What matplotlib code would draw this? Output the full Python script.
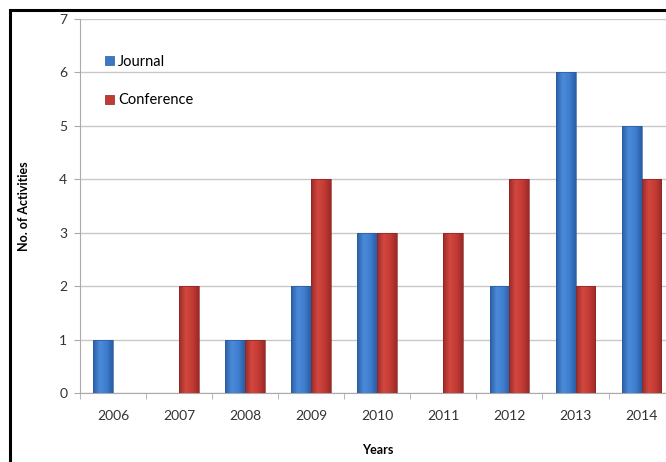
import numpy as np
import matplotlib
matplotlib.use("Agg")
import matplotlib.pyplot as plt
from matplotlib.colors import LinearSegmentedColormap
from matplotlib.patches import Rectangle

plt.rcParams['font.family'] = ['Lato', 'DejaVu Sans']

years = ['2006', '2007', '2008', '2009', '2010', '2011', '2012', '2013', '2014']
journal = [1, 0, 1, 2, 3, 0, 2, 6, 5]
conference = [0, 2, 1, 4, 3, 3, 4, 2, 4]

blue = '#3b78c8'
red = '#c23a35'
blue_map = LinearSegmentedColormap.from_list('b', ['#2a5ea6', '#4b8ad8', '#3f7fd0', '#2a5ea6'])
red_map = LinearSegmentedColormap.from_list('r', ['#9a2a27', '#d2473f', '#c43b35', '#9a2a27'])


# shade each bar with a left-to-right gradient
def shade_bars(ax, bars, cmap):
    grad = np.linspace(0, 1, 64).reshape(1, -1)
    for b in bars:
        h = b.get_height()
        if h <= 0:
            continue
        x0, w = b.get_x(), b.get_width()
        im = ax.imshow(grad, cmap=cmap, aspect='auto', extent=(x0, x0 + w, 0, h),
                       zorder=3, interpolation='bicubic')
        im.set_clip_path(b)
        b.set_facecolor('none')


fig = plt.figure(figsize=(6.66, 4.62), dpi=100)
ax = fig.add_axes([0.120, 0.149, 0.893, 0.81])

x = np.arange(len(years))
w = 0.3
jb = ax.bar(x - w / 2, journal, w, color=blue, edgecolor='#2a5a9c', linewidth=0.5,
            label='Journal', zorder=4)
cb = ax.bar(x + w / 2, conference, w, color=red, edgecolor='#8e2522', linewidth=0.5,
            label='Conference', zorder=4)

ax.set_xlim(-0.5, len(years) - 0.5)
ax.set_ylim(0, 7)
ax.set_yticks(range(8))
ax.set_xticks(x)
ax.set_xticklabels(years)
ax.set_xticks(np.arange(len(years)) - 0.5, minor=True)
ax.tick_params(axis='x', which='major', length=0, pad=12, labelsize=10, colors='#333333')
ax.tick_params(axis='x', which='minor', length=4, color='#aaaaaa', direction='out')
ax.tick_params(axis='y', length=4, color='#aaaaaa', labelsize=10, colors='#333333', pad=5)
ax.grid(axis='y', color='#c8c8c8', linewidth=1, zorder=0)

for side in ['top', 'right']:
    ax.spines[side].set_visible(False)
for side in ['left', 'bottom']:
    ax.spines[side].set_color('#aaaaaa')

ax.set_ylabel('No. of Activities', fontsize=9, fontweight='bold', labelpad=21)
ax.set_xlabel('Years', fontsize=9, fontweight='bold', labelpad=16)

ax.legend(loc='upper left', bbox_to_anchor=(0.02, 0.94), frameon=False,
          handlelength=0.6, handleheight=0.6, handletextpad=0.3,
          labelspacing=1.7, fontsize=10.5)

shade_bars(ax, jb, blue_map)
shade_bars(ax, cb, red_map)
ax.set_xlim(-0.5, len(years) - 0.5)
ax.set_ylim(0, 7)

# outer frame around the figure
fig.patches.append(Rectangle((10 / 666, -0.1), 1.2, 1 - 10 / 462 + 0.1,
                             transform=fig.transFigure, fill=False,
                             edgecolor='black', linewidth=2.2))

fig.savefig('out.png', dpi=100)
